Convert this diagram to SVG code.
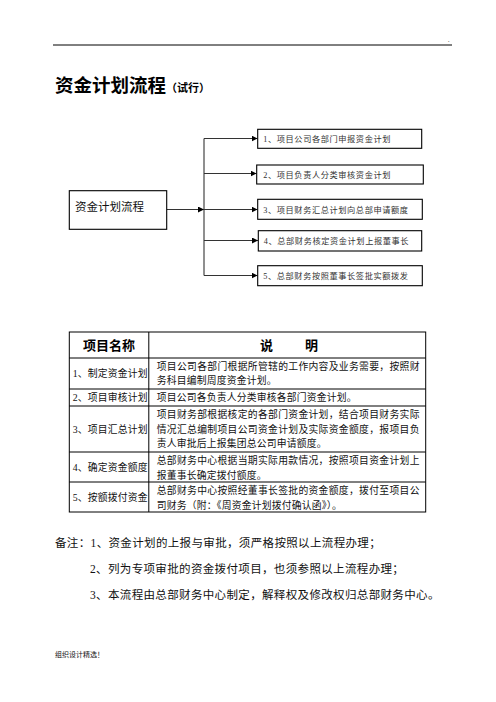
<svg xmlns="http://www.w3.org/2000/svg" width="496" height="702" viewBox="0 0 496 702">
<style>
.t{font-family:'Liberation Serif','Noto Sans CJK SC',serif;fill:#111}
.b{font-family:'Liberation Sans','Noto Sans CJK SC',sans-serif;font-weight:bold;fill:#000}
.box{fill:#fff;stroke:#000;stroke-width:1.1}
.bt{font-size:8.2px;letter-spacing:0.6px;fill:#333}
.cell{font-size:9.8px;letter-spacing:0.2px}
.note{font-size:11.5px;letter-spacing:0.35px}
.con{stroke:#333;stroke-width:1.1;fill:none}
.grid{stroke:#000;stroke-width:1;fill:none}
</style>
<defs>
<marker id="ar" markerUnits="userSpaceOnUse" markerWidth="6" markerHeight="6" refX="6" refY="3" orient="auto">
<path d="M0,0 L6,3 L0,6 z" fill="#000"/>
</marker>
</defs>
<rect width="496" height="702" fill="#fff"/>
<line x1="53" y1="45" x2="452" y2="45" stroke="#000" stroke-width="1"/>
<text x="448" y="42" class="t" font-size="6" fill="#999">.</text>

<g id="title">
<text x="55" y="91.5" class="b" font-size="18.5">资金计划流程<tspan font-size="11">（试行）</tspan></text>
</g>

<g id="connectors">
<line class="con" x1="166.7" y1="209.5" x2="204" y2="209.5" marker-end="url(#ar)"/>
<line class="con" x1="204" y1="138.5" x2="204" y2="275.5"/>
<line class="con" x1="204" y1="138.5" x2="257.5" y2="138.5" marker-end="url(#ar)"/>
<line class="con" x1="204" y1="173.5" x2="256.5" y2="173.5" marker-end="url(#ar)"/>
<line class="con" x1="204" y1="209.5" x2="257.5" y2="209.5" marker-end="url(#ar)"/>
<line class="con" x1="204" y1="240.5" x2="258" y2="240.5" marker-end="url(#ar)"/>
<line class="con" x1="204" y1="275.5" x2="257.5" y2="275.5" marker-end="url(#ar)"/>
</g>

<g id="main">
<rect class="box" x="69.3" y="190.7" width="97.4" height="38.6"/>
<text x="75" y="211" class="t" font-size="11.5" fill="#222">资金计划流程</text>
</g>
<g id="step1">
<rect class="box" x="257.7" y="129.3" width="164" height="19"/>
<text x="263.3" y="142" class="t bt">1、项目公司各部门申报资金计划</text>
</g>
<g id="step2">
<rect class="box" x="256.7" y="165" width="166.6" height="19"/>
<text x="263.3" y="177.5" class="t bt">2、项目负责人分类审核资金计划</text>
</g>
<g id="step3">
<rect class="box" x="257.7" y="199.3" width="164.6" height="20"/>
<text x="263.3" y="212.5" class="t bt">3、项目财务汇总计划向总部申请额度</text>
</g>
<g id="step4">
<rect class="box" x="258.3" y="230.7" width="163.4" height="20.3"/>
<text x="263.8" y="244" class="t bt">4、总部财务核定资金计划上报董事长</text>
</g>
<g id="step5">
<rect class="box" x="257.7" y="265.7" width="164.6" height="20"/>
<text x="263.3" y="279" class="t bt">5、总部财务按照董事长签批实额拨发</text>
</g>

<g id="table">
<rect class="grid" x="69.3" y="332" width="356.4" height="180"/>
<line class="grid" x1="148.8" y1="332" x2="148.8" y2="512"/>
<line class="grid" x1="69.3" y1="358" x2="425.7" y2="358"/>
<line class="grid" x1="69.3" y1="389" x2="425.7" y2="389"/>
<line class="grid" x1="69.3" y1="406" x2="425.7" y2="406"/>
<line class="grid" x1="69.3" y1="452" x2="425.7" y2="452"/>
<line class="grid" x1="69.3" y1="482" x2="425.7" y2="482"/>
<text x="83" y="350" class="b" font-size="13">项目名称</text>
<text x="260" y="350" class="b" font-size="13" letter-spacing="2">说　　明</text>

<text x="72.7" y="377" class="t cell">1、制定资金计划</text>
<text x="156.7" y="369.5" class="t cell" textLength="263" lengthAdjust="spacing">项目公司各部门根据所管辖的工作内容及业务需要，按照财</text>
<text x="156.7" y="384" class="t cell">务科目编制周度资金计划。</text>

<text x="72.7" y="401" class="t cell">2、项目审核计划</text>
<text x="156.7" y="401" class="t cell">项目公司各负责人分类审核各部门资金计划。</text>

<text x="72.7" y="432.5" class="t cell">3、项目汇总计划</text>
<text x="156.7" y="418" class="t cell" textLength="263" lengthAdjust="spacing">项目财务部根据核定的各部门资金计划，结合项目财务实际</text>
<text x="156.7" y="432.5" class="t cell" textLength="263" lengthAdjust="spacing">情况汇总编制项目公司资金计划及实际资金额度，报项目负</text>
<text x="156.7" y="447" class="t cell">责人审批后上报集团总公司申请额度。</text>

<text x="72.7" y="471" class="t cell">4、确定资金额度</text>
<text x="156.7" y="464" class="t cell" textLength="263" lengthAdjust="spacing">总部财务中心根据当期实际用款情况，按照项目资金计划上</text>
<text x="156.7" y="478.5" class="t cell">报董事长确定拨付额度。</text>

<text x="72.7" y="501" class="t cell">5、按额拨付资金</text>
<text x="156.7" y="494" class="t cell" textLength="263" lengthAdjust="spacing">总部财务中心按照经董事长签批的资金额度，拨付至项目公</text>
<text x="156.7" y="508.5" class="t cell">司财务（附：《周资金计划拨付确认函》）。</text>
</g>

<g id="notes">
<text x="55" y="547" class="t note">备注：1、资金计划的上报与审批，须严格按照以上流程办理；</text>
<text x="90" y="573" class="t note">2、列为专项审批的资金拨付项目，也须参照以上流程办理；</text>
<text x="90" y="599" class="t note">3、本流程由总部财务中心制定，解释权及修改权归总部财务中心。</text>
</g>

<text x="55" y="657" class="t" font-size="7" fill="#333">组织设计精选！</text>
</svg>
